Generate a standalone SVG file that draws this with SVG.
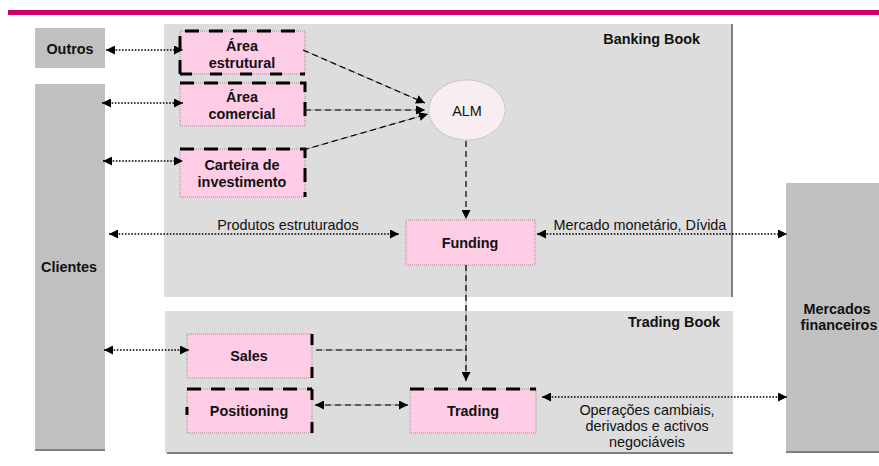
<svg xmlns="http://www.w3.org/2000/svg" width="879" height="466" viewBox="0 0 879 466">
<defs>
<marker id="ah" viewBox="0 0 10 10" refX="10" refY="5" markerWidth="9" markerHeight="9" markerUnits="userSpaceOnUse" orient="auto-start-reverse">
<path d="M0,0 L10,5 L0,10 Z" fill="#000"/>
</marker>
</defs>
<style>
.t{font-family:"Liberation Sans",Arial,sans-serif;font-size:14.4px;fill:#111}
.b{font-weight:bold}
.m{text-anchor:middle}
.e{text-anchor:end}
.gray{fill:#C0C0C0}
.panel{fill:#DDDDDD}
.shadow{stroke:#808080;stroke-width:2;fill:none}
.box{fill:#FFCCE6;stroke:#9E8A94;stroke-width:1;stroke-dasharray:1 1}
.thick{stroke:#000;stroke-width:3;stroke-dasharray:14 10;fill:none}
.dot{stroke:#000;stroke-width:1.6;stroke-dasharray:1.6 1.6;fill:none}
.dash{stroke:#000;stroke-width:1.2;stroke-dasharray:6 4;fill:none}
.under{stroke:#9A9A9A;stroke-width:1;fill:none}
</style>
<rect x="8" y="10" width="871" height="5" fill="#CC0066"/>

<g id="banking-book">
<rect class="panel" x="164" y="24" width="568" height="273"/>
<line class="shadow" x1="732" y1="24" x2="732" y2="297"/>
<text class="t b e" x="700" y="44">Banking Book</text>
</g>
<g id="trading-book">
<rect class="panel" x="165" y="311" width="568" height="142"/>
<line class="shadow" x1="167" y1="453" x2="733" y2="453"/>
<text class="t b e" x="720" y="327">Trading Book</text>
</g>

<g id="outros">
<rect class="gray" x="35" y="28" width="70" height="40"/>
<text class="t b m" x="70" y="54">Outros</text>
</g>
<g id="clientes">
<rect class="gray" x="35" y="84" width="70" height="366"/>
<line class="shadow" x1="35" y1="450" x2="105" y2="450"/>
<text class="t b m" x="69" y="272">Clientes</text>
</g>
<g id="mercados">
<rect class="gray" x="786" y="183" width="93" height="269"/>
<line class="shadow" x1="786" y1="452" x2="879" y2="452"/>
<text class="t b m" x="837" y="314">Mercados</text>
<text class="t b m" x="839" y="330">financeiros</text>
</g>

<g id="area-estrutural">
<rect class="box" x="180" y="31" width="125" height="43"/>
<path class="thick" d="M180,74 L180,31 L305,31"/>
<path class="thick" d="M180,74 L305,74" style="stroke-dasharray:12 18"/>
<text class="t b m" x="242" y="51">Área</text>
<text class="t b m" x="242" y="68">estrutural</text>
</g>
<g id="area-comercial">
<rect class="box" x="180" y="83" width="125" height="43"/>
<path class="thick" d="M180,83 L305,83 L305,126"/>
<text class="t b m" x="242" y="102">Área</text>
<text class="t b m" x="242" y="119">comercial</text>
</g>
<g id="carteira">
<rect class="box" x="180" y="149" width="125" height="48"/>
<path class="thick" d="M180,149 L305,149 L305,197"/>
<text class="t b m" x="242" y="170">Carteira de</text>
<text class="t b m" x="242" y="187">investimento</text>
</g>
<g id="alm">
<ellipse cx="467" cy="110" rx="38" ry="30" fill="#F8EEF2" stroke="#A8A8A8" stroke-width="1" stroke-dasharray="1 1"/>
<text class="t m" x="467" y="116">ALM</text>
</g>
<g id="funding">
<rect class="box" x="406" y="220" width="129" height="45"/>
<text class="t b m" x="470" y="248">Funding</text>
</g>
<g id="sales">
<rect class="box" x="187" y="334" width="125" height="44"/>
<path class="thick" d="M312,334 L312,378" style="stroke-dasharray:11 22 11"/>
<text class="t b m" x="249" y="361">Sales</text>
</g>
<g id="positioning">
<rect class="box" x="187" y="389" width="125" height="44"/>
<path class="thick" d="M187,389 L312,389"/>
<path class="thick" d="M312,389 L312,433" style="stroke-dasharray:11 22 11"/>
<path class="thick" d="M187,407 L187,415" style="stroke-dasharray:none"/>
<text class="t b m" x="249" y="416">Positioning</text>
</g>
<g id="trading">
<rect class="box" x="410" y="389" width="126" height="44"/>
<path class="thick" d="M410,389 L536,389"/>
<text class="t b m" x="473" y="416">Trading</text>
</g>

<g id="connectors">
<line class="dot" x1="106" y1="50" x2="183" y2="50" marker-start="url(#ah)" marker-end="url(#ah)"/>
<line class="dot" x1="102" y1="103" x2="183" y2="103" marker-start="url(#ah)" marker-end="url(#ah)"/>
<line class="dot" x1="103" y1="161" x2="183" y2="161" marker-start="url(#ah)" marker-end="url(#ah)"/>
<line class="under" x1="303" y1="50" x2="425" y2="103"/>
<line class="dash" x1="303" y1="50" x2="425" y2="103" marker-end="url(#ah)"/>
<line class="under" x1="305" y1="110" x2="425" y2="110"/>
<line class="dash" x1="305" y1="110" x2="425" y2="110" marker-end="url(#ah)"/>
<line class="under" x1="303" y1="150" x2="428" y2="114"/>
<line class="dash" x1="303" y1="150" x2="428" y2="114" marker-end="url(#ah)"/>
<line class="dash" x1="466" y1="141" x2="466" y2="219" marker-end="url(#ah)"/>
<line class="dot" x1="109" y1="234" x2="399" y2="234" marker-start="url(#ah)" marker-end="url(#ah)"/>
<line class="dot" x1="537" y1="234" x2="787" y2="234" marker-start="url(#ah)" marker-end="url(#ah)"/>
<line class="dot" x1="104" y1="350" x2="189" y2="350" marker-start="url(#ah)" marker-end="url(#ah)"/>
<line class="under" x1="316" y1="350" x2="466" y2="350"/>
<line class="dash" x1="316" y1="350" x2="466" y2="350"/>
<line class="under" x1="466" y1="265" x2="466" y2="381"/>
<line class="dash" x1="466" y1="265" x2="466" y2="381" marker-end="url(#ah)"/>
<line class="under" x1="315" y1="405" x2="408" y2="405"/>
<line class="dash" x1="315" y1="405" x2="408" y2="405" marker-start="url(#ah)" marker-end="url(#ah)"/>
<line class="dot" x1="542" y1="397" x2="787" y2="397" marker-start="url(#ah)" marker-end="url(#ah)"/>
<text class="t m" x="288" y="230">Produtos estruturados</text>
<text class="t m" x="640" y="230">Mercado monetário, Dívida</text>
<text class="t m" x="647" y="415">Operações cambiais,</text>
<text class="t m" x="647" y="431">derivados e activos</text>
<text class="t m" x="647" y="447">negociáveis</text>
</g>
</svg>
